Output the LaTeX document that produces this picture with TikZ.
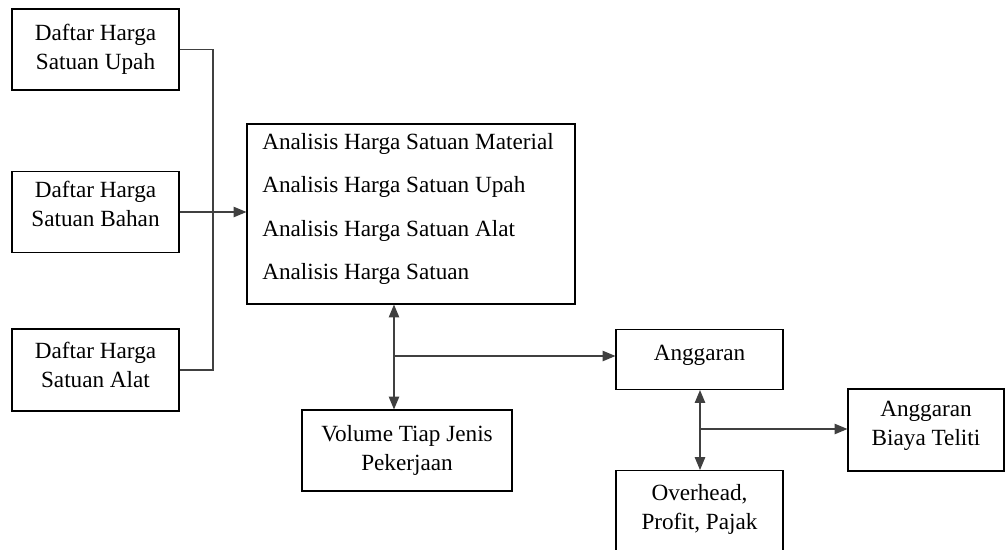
\documentclass[tikz,border=0pt]{standalone}
\usepackage{fontspec}
\setmainfont{Liberation Serif}
\usetikzlibrary{arrows.meta}

\begin{document}
\begin{tikzpicture}[x=0.025cm, y=-0.025cm,
	>={Triangle[length=3.2mm,width=2.6mm]},
	box/.style={draw, thick, align=center, inner sep=0pt, font=\fontsize{16.5}{20.6}\selectfont},
	line/.style={thick, black!75},
	entry/.style={anchor=west, inner sep=0pt, font=\fontsize{16.5}{20.6}\selectfont}]
	\useasboundingbox (0,0) rectangle (1006,549);
	\clip (0,0) rectangle (1006,549);
	
	% daftar harga
	\node[box, minimum width=167*0.025cm, minimum height=81*0.025cm] (upah) at (95.5, 49.5){Daftar Harga\\Satuan Upah};
	\node[box, minimum width=167*0.025cm, minimum height=81*0.025cm] (bahan) at (95.5, 212){Daftar Harga\\Satuan Bahan\\[-9.5pt]};
	\node[box, minimum width=167*0.025cm, minimum height=82*0.025cm] (alat) at (95.5, 370){Daftar Harga\\Satuan Alat\\[-13pt]};
	
	% analisis
	\node[box, minimum width=328*0.025cm, minimum height=180*0.025cm] (analisis) at (411, 214){};
	\node[entry] (a1) at (262, 144){Analisis Harga Satuan Material};
	\node[entry] (a2) at (262, 187){Analisis Harga Satuan Upah};
	\node[entry] (a3) at (262, 231){Analisis Harga Satuan Alat};
	\node[entry] (a4) at (262, 274){Analisis Harga Satuan};
	
	\node[box, minimum width=210*0.025cm, minimum height=81*0.025cm] (volume) at (407, 450.5){Volume Tiap Jenis\\Pekerjaan};
	\node[box, minimum width=167*0.025cm, minimum height=60*0.025cm] (anggaran) at (699.5, 359.5){Anggaran\\[-11.5pt]};
	\node[box, minimum width=156*0.025cm, minimum height=82*0.025cm] (teliti) at (926, 430){Anggaran\\Biaya Teliti\\[-11pt]};
	\node[box, minimum width=167*0.025cm, minimum height=82*0.025cm, anchor=north] (overhead) at (699.5, 470){};
	\node (ovtext) at (699.5, 509) [align=center, font=\fontsize{16.5}{20.6}\selectfont]{Overhead,\\Profit, Pajak};
	
	\coordinate (j0) at (213, 212);
	\coordinate (j1) at (394, 356);
	\coordinate (j2) at (700, 429);
	
	\draw[line] (upah.east) -| (j0) |- (alat.east);
	\draw[line, ->] (bahan.east) -- (analisis.west |- bahan.east);
	\draw[line, <->] (analisis.south -| j1) -- (volume.north -| j1);
	\draw[line, ->] (j1) -- (anggaran.west |- j1);
	\draw[line, <->] (anggaran.south -| j2) -- (overhead.north -| j2);
	\draw[line, ->] (j2) -- (teliti.west |- j2);
\end{tikzpicture}
\end{document}
